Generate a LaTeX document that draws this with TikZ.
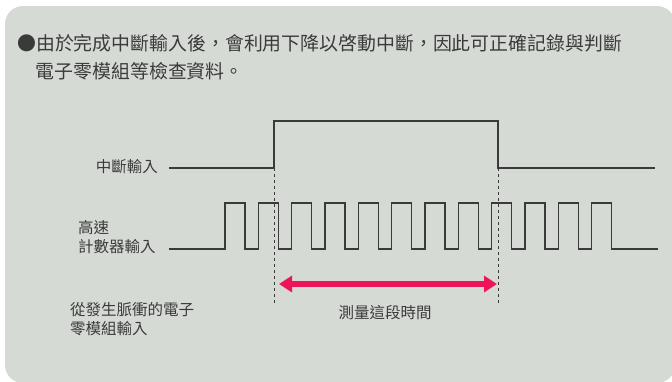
\documentclass[tikz,border=0pt]{standalone}
\usepackage{fontspec}
\setmainfont{Noto Sans CJK TC}
\usetikzlibrary{arrows.meta}
\definecolor{bg}{RGB}{214,218,213}
\definecolor{ink}{RGB}{58,58,58}
\definecolor{mag}{RGB}{237,20,90}
\begin{document}
\begin{tikzpicture}[x=1pt,y=-1pt,
  titletext/.style={font=\fontsize{18.9}{26}\selectfont, text=ink, inner sep=0pt, anchor=west},
  lbl/.style={font=\fontsize{15.5}{19}\selectfont, text=ink, inner sep=0pt, align=left},
  wave/.style={draw=ink, line width=1.3pt, line join=miter},
  guide/.style={draw=ink, line width=0.8pt, dash pattern=on 3pt off 3pt},
  span/.style={draw=mag, line width=5.5pt, {Triangle[length=13pt,width=16pt]}-{Triangle[length=13pt,width=16pt]}}]
\useasboundingbox (0,0) rectangle (672,381);
\fill[bg, rounded corners=18pt] (5,6) rectangle (675,383);

% title
\node[titletext] (t1) at (17,43.5) {●由於完成中斷輸入後，會利用下降以啓動中斷，因此可正確記錄與判斷};
\node[titletext] (t2) at (35.5,71) {電子零模組等檢查資料。};

% labels
\node[lbl, anchor=east] (intin) at (158,167) {中斷輸入};
\node[lbl, anchor=west] (hsc) at (78,237.5) {高速\\計數器輸入};
\node[lbl, anchor=west] (src) at (70,319) {從發生脈衝的電子\\零模組輸入};
\node[lbl, anchor=center] (meas) at (385,313) {測量這段時間};

% interrupt waveform
\coordinate (rise) at (274,168);
\coordinate (fall) at (498,168);
\draw[wave] (169,168) -- (rise) -- (274,121) -- (498,121) -- (fall) -- (655,168);

% counter waveform
\draw[wave] (169,249)
  foreach \k in {0,...,11} {
    -- ({225+33.333*\k},249) -- ({225+33.333*\k},203)
    -- ({245+33.333*\k},203) -- ({245+33.333*\k},249)
  } -- (658,249);

% guides
\coordinate (riseb) at (274,305);
\coordinate (fallb) at (498,305);
\draw[guide] (rise) -- (riseb);
\draw[guide] (fall) -- (fallb);

% span arrow
\coordinate (al) at (279,284);
\coordinate (ar) at (497,284);
\draw[span] (al) -- (ar);
\end{tikzpicture}
\end{document}
